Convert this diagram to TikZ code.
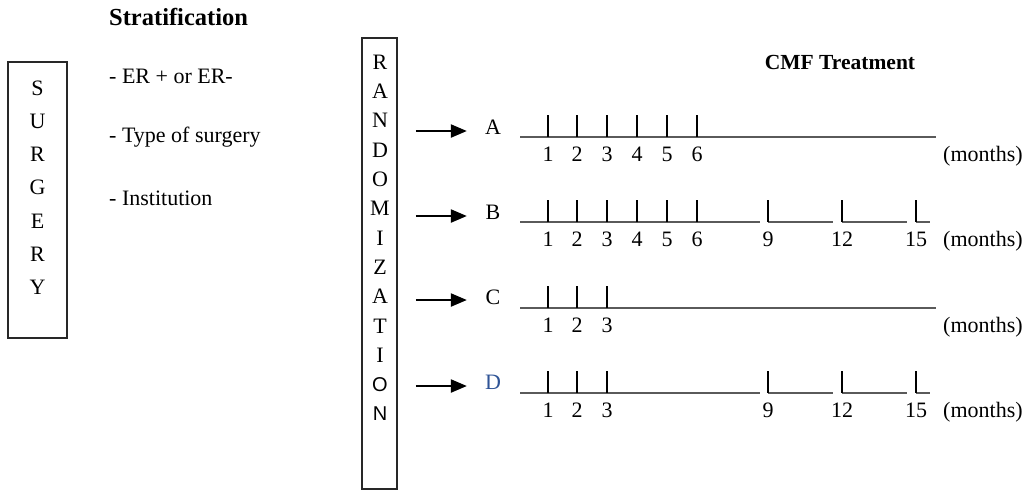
\documentclass[tikz,border=0pt]{standalone}
\usepackage{fontspec}
\setmainfont{Liberation Serif}
\newfontfamily\armfont{Liberation Sans}
\usetikzlibrary{arrows.meta}
\definecolor{armblue}{RGB}{47,84,150}
\definecolor{axisgray}{RGB}{90,90,90}
\definecolor{boxgray}{RGB}{40,40,40}
\tikzset{
  txt/.style={inner sep=0pt, font=\fontsize{22}{26}\selectfont},
  head/.style={inner sep=0pt, font=\fontsize{24.5}{29}\selectfont\bfseries},
  letter/.style={inner sep=0pt, font=\fontsize{22}{26}\selectfont},
  frame/.style={draw=boxgray, line width=1.6pt, inner sep=0pt},
  axis/.style={draw=axisgray, line width=1.1pt},
  tick/.style={draw=black, line width=1.1pt},
  arr/.style={line width=2.2pt, -{Triangle[length=16pt,width=13pt]}},
  num/.style={inner sep=0pt, font=\fontsize{22}{26}\selectfont, anchor=base},
}
\begin{document}
\begin{tikzpicture}[x=1pt,y=-1pt]
\useasboundingbox (0,0) rectangle (1035,491);

% ---- surgery column
\node[frame, minimum width=59pt, minimum height=276pt] (surg) at (37.5,200) {};
\foreach \l [count=\i from 0] in {S,U,R,G,E,R,Y}
  \node[letter] (s\i) at (37.5,88+33.2*\i) {\l};

% ---- stratification factors
\node[head, anchor=west] (strat) at (109,17) {Stratification};
\node[txt, anchor=west] (f1) at (109,76) {- ER + or ER-};
\node[txt, anchor=west] (f2) at (109,137) {- Type of surgery};
\node[txt, anchor=west] (f3) at (109,198) {- Institution};

% ---- randomization column
\node[frame, minimum width=35pt, minimum height=451pt] (rand) at (379.5,263.5) {};
\foreach \l [count=\i from 0] in {R,A,N,D,O,M,I,Z,A,T,I}
  \node[letter] (r\i) at (380,62+29.33*\i) {\l};
\node[letter, font=\fontsize{20}{24}\armfont] (r11) at (380,62+29.33*11) {O};
\node[letter, font=\fontsize{20}{24}\armfont] (r12) at (380,62+29.33*12) {N};

% ---- treatment heading
\node[head, font=\fontsize{21.5}{26}\selectfont\bfseries] (cmf) at (840,62) {CMF Treatment};

% ---- arm labels
\node[txt] (armA) at (493,127) {A};
\node[txt] (armB) at (493,212) {B};
\node[txt] (armC) at (493,297) {C};
\node[txt, text=armblue] (armD) at (493,382) {D};

% ---- arrows from randomization to each arm
\foreach \a/\y in {A/131,B/216,C/300,D/386}
  \draw[arr, shorten <=18pt, shorten >=18pt] (rand.east |- 0,\y) -- (armA.west |- 0,\y);

% ---- arm A: six monthly cycles
\draw[axis] (520,137) -- (936,137);
\foreach \x/\n in {548/1,577/2,607/3,637/4,667/5,697/6}{
  \draw[tick] (\x,115) -- (\x,137);
  \node[num] at (\x,161) {\n};
}
\node[num, anchor=base west] (mA) at (943,161) {(months)};

% ---- arm B: six monthly cycles, then every three months
\draw[axis] (520,222) -- (760,222);
\draw[axis] (768,222) -- (833,222);
\draw[axis] (842,222) -- (907,222);
\draw[axis] (916,222) -- (930,222);
\foreach \x/\n in {548/1,577/2,607/3,637/4,667/5,697/6,768/9,842/12,916/15}{
  \draw[tick] (\x,200) -- (\x,222);
  \node[num] at (\x,246) {\n};
}
\node[num, anchor=base west] (mB) at (943,246) {(months)};

% ---- arm C: three monthly cycles
\draw[axis] (520,308) -- (936,308);
\foreach \x/\n in {548/1,577/2,607/3}{
  \draw[tick] (\x,286) -- (\x,308);
  \node[num] at (\x,332) {\n};
}
\node[num, anchor=base west] (mC) at (943,332) {(months)};

% ---- arm D: three monthly cycles, then every three months
\draw[axis] (520,393) -- (760,393);
\draw[axis] (768,393) -- (833,393);
\draw[axis] (842,393) -- (907,393);
\draw[axis] (916,393) -- (930,393);
\foreach \x/\n in {548/1,577/2,607/3,768/9,842/12,916/15}{
  \draw[tick] (\x,371) -- (\x,393);
  \node[num] at (\x,417) {\n};
}
\node[num, anchor=base west] (mD) at (943,417) {(months)};
\end{tikzpicture}
\end{document}
